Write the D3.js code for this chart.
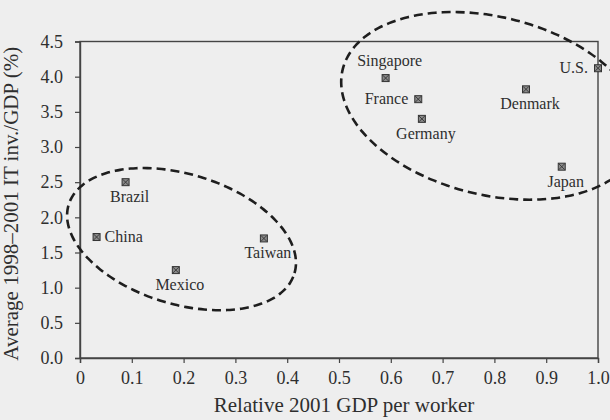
<!DOCTYPE html>
<html>
<head>
<meta charset="utf-8">
<script src="https://cdn.jsdelivr.net/npm/d3@7"></script>
<style>
  html, body { margin: 0; padding: 0; background: #eeeeee; }
  svg { display: block; }
</style>
</head>
<body>
<div id="chart"></div>
<script>
// data
const countries = ["Singapore", "France", "Germany", "Denmark", "U.S.", "Japan", "Brazil", "China", "Taiwan", "Mexico"];
const gdpPerWorker = [0.59, 0.653, 0.66, 0.861, 1.0, 0.93, 0.088, 0.032, 0.355, 0.185];
const itInvestment = [3.98, 3.68, 3.40, 3.82, 4.12, 2.72, 2.50, 1.72, 1.70, 1.25];
const labelSide = ["above", "left", "below", "below", "left", "below", "below", "right", "below", "below"];

const xTicks = [0, 0.1, 0.2, 0.3, 0.4, 0.5, 0.6, 0.7, 0.8, 0.9, 1.0];
const yTicks = [0, 0.5, 1.0, 1.5, 2.0, 2.5, 3.0, 3.5, 4.0, 4.5];

// dashed groupings: centre in data units
const groupCx = [0.196, 0.794];
const groupCy = [1.69, 3.585];

const width = 610, height = 420;
const margin = {top: 41.5, right: 12, bottom: 62, left: 80};

const svg = d3.select("#chart").append("svg")
    .attr("width", width)
    .attr("height", height);

svg.append("rect").attr("width", width).attr("height", height).attr("fill", "#eeeeee");

const x = d3.scaleLinear().domain([0, 1]).range([margin.left, width - margin.right]);
const y = d3.scaleLinear().domain([0, 4.5]).range([height - margin.bottom, margin.top]);

const ink = "#2e2e2e";
const serif = "'Liberation Serif', 'Times New Roman', serif";

//frame
svg.append("rect")
    .attr("x", x(0)).attr("y", y(4.5))
    .attr("width", x(1) - x(0)).attr("height", y(0) - y(4.5))
    .attr("fill", "none").attr("stroke", "#444").attr("stroke-width", 1.4);

//x axis
svg.append("g")
    .attr("transform", `translate(0,${y(0)})`)
    .call(d3.axisBottom(x).tickValues(xTicks).tickSize(5).tickPadding(8)
        .tickFormat(d => d === 0 ? "0" : d3.format(".1f")(d)))
    .call(g => g.select(".domain").attr("stroke", "#444").attr("stroke-width", 1.4))
    .call(g => g.selectAll(".tick line").attr("stroke", "#444").attr("stroke-width", 1.2))
    .call(g => g.selectAll("text").attr("fill", ink).style("font", `18px ${serif}`));

//y axis
svg.append("g")
    .attr("transform", `translate(${x(0)},0)`)
    .call(d3.axisLeft(y).tickValues(yTicks).tickSize(5).tickPadding(12).tickFormat(d3.format(".1f")))
    .call(g => g.select(".domain").attr("stroke", "#444").attr("stroke-width", 1.4))
    .call(g => g.selectAll(".tick line").attr("stroke", "#444").attr("stroke-width", 1.2))
    .call(g => g.selectAll("text").attr("fill", ink).style("font", `18px ${serif}`));

//axis titles
svg.append("text")
    .attr("x", 344).attr("y", 412)
    .attr("text-anchor", "middle")
    .attr("fill", ink)
    .style("font", `21px ${serif}`)
    .text("Relative 2001 GDP per worker");

svg.append("text")
    .attr("transform", `translate(18,${(y(0) + y(4.5)) / 2 + 4}) rotate(-90)`)
    .attr("text-anchor", "middle")
    .attr("fill", ink)
    .style("font", `21px ${serif}`)
    .text("Average 1998\u20132001 IT inv./GDP (%)");

//dashed ellipses
const ellipseShape = [
    {rx: 118, ry: 65, angle: 17},
    {rx: 153, ry: 89, angle: 13.8}
];
groupCx.forEach((cx, i) => {
    const {rx, ry, angle} = ellipseShape[i];
    const a = angle * Math.PI / 180;
    const px = x(cx), py = y(groupCy[i]);
    const pts = d3.range(0, 360, 3).map(t => {
        const r = t * Math.PI / 180;
        const u = rx * Math.cos(r), v = ry * Math.sin(r);
        return [px + u * Math.cos(a) - v * Math.sin(a), py + u * Math.sin(a) + v * Math.cos(a)];
    });
    svg.append("path")
        .attr("d", d3.line().curve(d3.curveCardinalClosed)(pts))
        .attr("fill", "none")
        .attr("stroke", "#1e1e1e")
        .attr("stroke-width", 2.6)
        .attr("stroke-dasharray", "9,5");
});

//points
const pts = svg.append("g").selectAll("g")
    .data(countries.map((c, i) => i))
    .join("g")
    .attr("transform", i => `translate(${x(gdpPerWorker[i])},${y(itInvestment[i])})`);

pts.append("rect")
    .attr("x", -3.5).attr("y", -3.5).attr("width", 7).attr("height", 7)
    .attr("fill", "#8a8a8a").attr("stroke", "#333").attr("stroke-width", 1);
pts.append("path")
    .attr("d", "M-3,-3L3,3M-3,3L3,-3")
    .attr("stroke", "#333").attr("stroke-width", 0.9);

pts.append("text")
    .attr("fill", ink)
    .style("font", `16px ${serif}`)
    .attr("text-anchor", i => labelSide[i] === "left" ? "end" : labelSide[i] === "right" ? "start" : "middle")
    .attr("x", i => labelSide[i] === "left" ? -10 : labelSide[i] === "right" ? 8 : 4)
    .attr("y", i => labelSide[i] === "above" ? -12 : labelSide[i] === "below" ? 20 : 5)
    .text(i => countries[i]);
</script>
</body>
</html>
